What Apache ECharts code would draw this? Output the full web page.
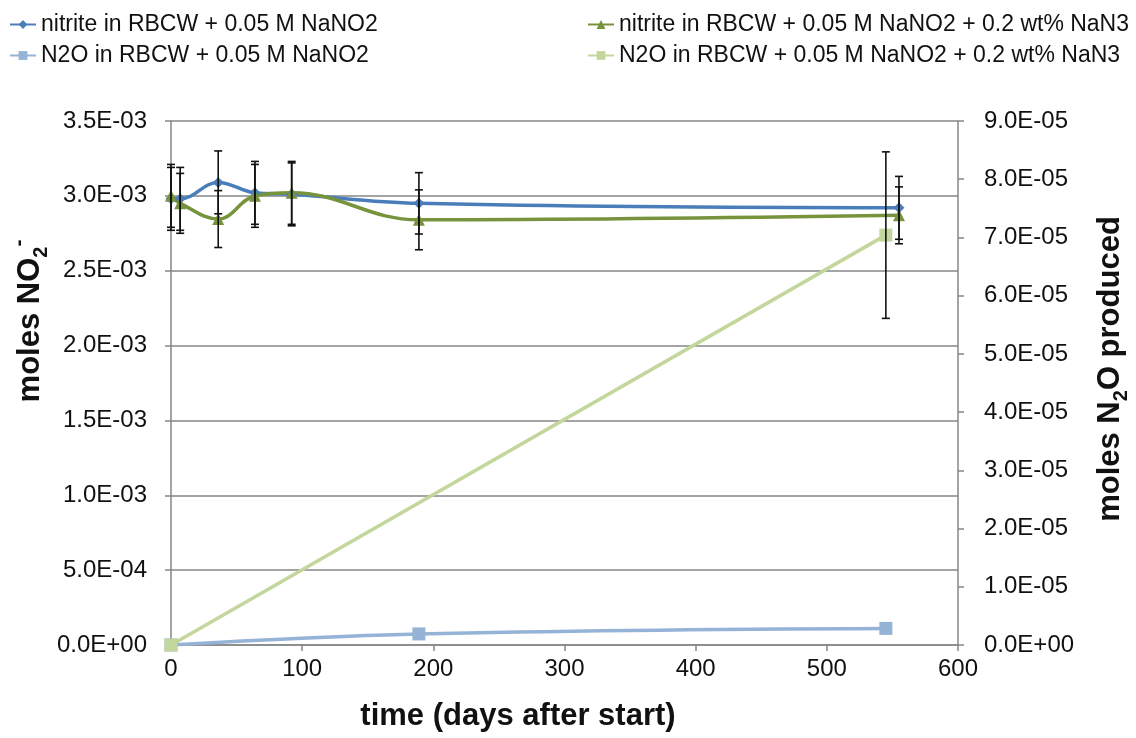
<!DOCTYPE html>
<html>
<head>
<meta charset="utf-8">
<script src="https://cdn.jsdelivr.net/npm/echarts@6/dist/echarts.min.js"></script>
<style>
  html, body { margin: 0; padding: 0; background: #fff; }
  #chart { width: 1136px; height: 738px; }
</style>
</head>
<body>
<div id="chart"></div>
<script>
// Series names
const nameNitriteA = 'nitrite in RBCW + 0.05 M NaNO2';
const nameNitriteB = 'nitrite in RBCW + 0.05 M NaNO2 + 0.2 wt% NaN3';
const nameN2OA = 'N2O in RBCW + 0.05 M NaNO2';
const nameN2OB = 'N2O in RBCW + 0.05 M NaNO2 + 0.2 wt% NaN3';

// Nitrite sampling days (days after start)
const nitriteDays = [0, 7, 36, 64, 92, 189, 555];
// moles NO2- remaining, with +/- error
const nitriteA = [2.98e-3, 2.98e-3, 3.09e-3, 3.02e-3, 3.01e-3, 2.95e-3, 2.92e-3];
const nitriteAErr = [0.21e-3, 0.21e-3, 0.21e-3, 0.21e-3, 0.21e-3, 0.205e-3, 0.21e-3];
const nitriteB = [3.00e-3, 2.95e-3, 2.845e-3, 3.00e-3, 3.02e-3, 2.84e-3, 2.87e-3];
const nitriteBErr = [0.21e-3, 0.20e-3, 0.19e-3, 0.21e-3, 0.21e-3, 0.20e-3, 0.19e-3];

// moles N2O produced
const n2oADays = [0, 189, 545];
const n2oA = [0, 1.9e-6, 2.85e-6];
const n2oBDays = [0, 545];
const n2oB = [0, 7.04e-5];
const n2oBErr = [0, 1.43e-5];

// Axis ticks
const xTicks = { min: 0, max: 600, interval: 100 };
const yLeftTicks = { min: 0, max: 3.5e-3, interval: 0.5e-3 };
const yRightTicks = { min: 0, max: 9e-5, interval: 1e-5 };

const FONT = '"Liberation Sans", Arial, sans-serif';
const AXIS_GRAY = '#868686';
const INK = '#111';

function sci(v) {
  if (Math.abs(v) < 1e-15) return '0.0E+00';
  let exp = Math.floor(Math.log10(Math.abs(v)));
  let mant = v / Math.pow(10, exp);
  if (Math.round(mant * 10) / 10 >= 10) { mant /= 10; exp += 1; }
  const sign = exp < 0 ? '-' : '+';
  const e = Math.abs(exp);
  return mant.toFixed(1) + 'E' + sign + (e < 10 ? '0' + e : e);
}

function zip(xs, ys) { return xs.map((x, i) => [x, ys[i]]); }
function zip3(xs, ys, es) { return xs.map((x, i) => [x, ys[i], es[i]]); }

// Vertical error bar with caps
function errorBarItem(params, api) {
  const x = api.value(0), y = api.value(1), e = api.value(2);
  if (!e) return null;
  const top = api.coord([x, y + e]);
  const bot = api.coord([x, y - e]);
  const half = 4;
  const style = { stroke: INK, lineWidth: 1.6 };
  return {
    type: 'group',
    children: [
      { type: 'line', shape: { x1: top[0], y1: top[1], x2: bot[0], y2: bot[1] }, style: style },
      { type: 'line', shape: { x1: top[0] - half, y1: top[1], x2: top[0] + half, y2: top[1] }, style: style },
      { type: 'line', shape: { x1: bot[0] - half, y1: bot[1], x2: bot[0] + half, y2: bot[1] }, style: style }
    ]
  };
}

const chart = echarts.init(document.getElementById('chart'), null, { renderer: 'canvas' });

const legendText = { fontSize: 23, fontFamily: FONT, color: INK };
const tickLabel = { color: INK, fontSize: 24, fontFamily: FONT };
const titleRich = {
  m: { fontSize: 31, fontWeight: 'bold', fontFamily: FONT, fill: INK, lineHeight: 42, verticalAlign: 'middle' },
  s: { fontSize: 20, fontWeight: 'bold', fontFamily: FONT, fill: INK, lineHeight: 42, verticalAlign: 'bottom' },
  p: { fontSize: 21, fontWeight: 'bold', fontFamily: FONT, fill: INK, lineHeight: 42, verticalAlign: 'top' }
};

const option = {
  backgroundColor: '#fff',
  animation: false,
  textStyle: { fontFamily: FONT },
  grid: { left: 171, right: 178, top: 121, bottom: 93, containLabel: false },
  legend: [
    {
      data: [nameNitriteA, nameN2OA],
      orient: 'vertical', left: 4, top: 8, itemGap: 8,
      itemWidth: 26, itemHeight: 11, textStyle: legendText
    },
    {
      data: [nameNitriteB, nameN2OB],
      orient: 'vertical', left: 582, top: 8, itemGap: 8,
      itemWidth: 26, itemHeight: 11, textStyle: legendText
    }
  ],
  xAxis: {
    type: 'value',
    min: xTicks.min, max: xTicks.max, interval: xTicks.interval,
    axisLine: { lineStyle: { color: AXIS_GRAY, width: 1.5 } },
    axisTick: { show: true, inside: false, length: 6, lineStyle: { color: AXIS_GRAY, width: 1.5 } },
    axisLabel: Object.assign({ margin: 12 }, tickLabel),
    splitLine: { show: false }
  },
  yAxis: [
    {
      type: 'value',
      min: yLeftTicks.min, max: yLeftTicks.max, interval: yLeftTicks.interval,
      axisLine: { show: true, lineStyle: { color: AXIS_GRAY, width: 1.5 } },
      axisTick: { show: true, length: 6, lineStyle: { color: AXIS_GRAY, width: 1.5 } },
      axisLabel: Object.assign({ margin: 24, formatter: sci }, tickLabel),
      splitLine: { show: true, lineStyle: { color: AXIS_GRAY, width: 1.5 } }
    },
    {
      type: 'value', position: 'right',
      min: yRightTicks.min, max: yRightTicks.max, interval: yRightTicks.interval,
      axisLine: { show: true, lineStyle: { color: AXIS_GRAY, width: 1.5 } },
      axisTick: { show: true, length: 6, lineStyle: { color: AXIS_GRAY, width: 1.5 } },
      axisLabel: Object.assign({ margin: 26, formatter: sci }, tickLabel),
      splitLine: { show: false }
    }
  ],
  graphic: [
    {
      type: 'text', rotation: Math.PI / 2, x: 30, y: 321,
      style: {
        text: '{m|moles NO}{s|2}{p|-}',
        align: 'center', verticalAlign: 'middle',
        rich: titleRich
      }
    },
    {
      type: 'text', rotation: Math.PI / 2, x: 1110, y: 369,
      style: {
        text: '{m|moles N}{s|2}{m|O produced}',
        align: 'center', verticalAlign: 'middle',
        rich: titleRich
      }
    },
    {
      type: 'text', x: 518, y: 716,
      style: {
        text: 'time (days after start)',
        align: 'center', verticalAlign: 'middle',
        font: 'bold 31px ' + FONT, fill: INK
      }
    }
  ],
  series: [
    {
      name: nameNitriteA, type: 'line', yAxisIndex: 0,
      data: zip(nitriteDays, nitriteA), smooth: 0.4,
      symbol: 'diamond', symbolSize: 11,
      itemStyle: { color: '#4A7EBB' }, lineStyle: { color: '#4A7EBB', width: 3.5 },
      z: 4
    },
    {
      name: nameNitriteB, type: 'line', yAxisIndex: 0,
      data: zip(nitriteDays, nitriteB), smooth: 0.4,
      symbol: 'triangle', symbolSize: 12,
      itemStyle: { color: '#77933C' }, lineStyle: { color: '#77933C', width: 3.5 },
      z: 4
    },
    {
      name: nameN2OA, type: 'line', yAxisIndex: 1,
      data: zip(n2oADays, n2oA), smooth: 0.4,
      symbol: 'rect', symbolSize: 13,
      itemStyle: { color: '#95B3D7' }, lineStyle: { color: '#95B3D7', width: 3.5 },
      z: 3
    },
    {
      name: nameN2OB, type: 'line', yAxisIndex: 1,
      data: zip(n2oBDays, n2oB),
      symbol: 'rect', symbolSize: 13,
      itemStyle: { color: '#C3D69B' }, lineStyle: { color: '#C3D69B', width: 3.5 },
      z: 3
    },
    {
      type: 'custom', yAxisIndex: 0, renderItem: errorBarItem,
      data: zip3(nitriteDays, nitriteA, nitriteAErr), encode: { x: 0, y: 1 }, z: 5, silent: true
    },
    {
      type: 'custom', yAxisIndex: 0, renderItem: errorBarItem,
      data: zip3(nitriteDays, nitriteB, nitriteBErr), encode: { x: 0, y: 1 }, z: 5, silent: true
    },
    {
      type: 'custom', yAxisIndex: 1, renderItem: errorBarItem,
      data: zip3(n2oBDays, n2oB, n2oBErr), encode: { x: 0, y: 1 }, z: 5, silent: true
    }
  ]
};

chart.setOption(option);
</script>
</body>
</html>
